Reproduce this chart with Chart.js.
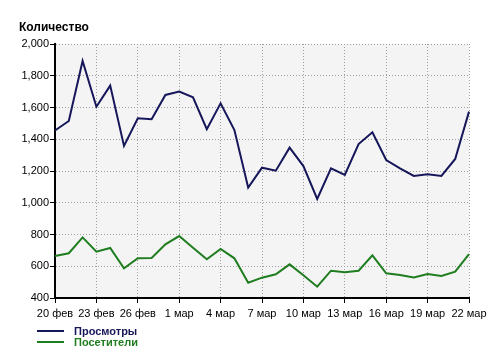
<!DOCTYPE html>
<html>
<head>
<meta charset="utf-8">
<script src="https://cdn.jsdelivr.net/npm/chart.js@4.4.0/dist/chart.umd.min.js"></script>
<style>
  html, body { margin: 0; padding: 0; background: #fff; }
  #wrap { width: 500px; height: 351px; position: relative; }
</style>
</head>
<body>
<div id="wrap"><canvas id="stats"></canvas></div>
<script>
// data
var days = [
  "20 фев", "21 фев", "22 фев", "23 фев", "24 фев", "25 фев", "26 фев", "27 фев", "28 фев",
  "1 мар", "2 мар", "3 мар", "4 мар", "5 мар", "6 мар", "7 мар", "8 мар", "9 мар", "10 мар",
  "11 мар", "12 мар", "13 мар", "14 мар", "15 мар", "16 мар", "17 мар", "18 мар", "19 мар",
  "20 мар", "21 мар", "22 мар"
];
var views = [
  1455, 1515, 1893, 1605, 1738, 1358, 1532, 1526, 1679, 1700,
  1664, 1463, 1626, 1458, 1095, 1221, 1202, 1347, 1231, 1024,
  1217, 1175, 1370, 1444, 1269, 1217, 1169, 1179, 1169, 1276, 1574
];
var visitors = [
  665, 682, 782, 692, 715, 587, 650, 652, 738, 790,
  716, 644, 709, 650, 496, 528, 549, 612, 543, 471,
  572, 562, 572, 669, 556, 545, 530, 551, 539, 566, 677
];
var yTicks = [400, 600, 800, 1000, 1200, 1400, 1600, 1800, 2000];

var tickFont = { family: "'Liberation Sans', Arial, sans-serif", size: 11 };

var chartDecor = {
  id: "chartDecor",
  beforeDraw: function (chart) {
    var ctx = chart.ctx, a = chart.chartArea;
    ctx.save();
    ctx.fillStyle = "#f4f4f4";
    ctx.fillRect(a.left, a.top, a.right - a.left, a.bottom - a.top);
    ctx.restore();
  },
  afterDraw: function (chart) {
    var ctx = chart.ctx;
    ctx.save();
    ctx.fillStyle = "#000";
    ctx.font = "bold 12px 'Liberation Sans', Arial, sans-serif";
    ctx.textBaseline = "middle";
    ctx.fillText("Количество", 19, 28);

    // legend, one row per dataset
    ctx.font = "bold 11px 'Liberation Sans', Arial, sans-serif";
    chart.data.datasets.forEach(function (ds, i) {
      var y = 331 + i * 11;
      ctx.strokeStyle = ds.borderColor;
      ctx.lineWidth = 2;
      ctx.beginPath();
      ctx.moveTo(37, y);
      ctx.lineTo(64, y);
      ctx.stroke();
      ctx.fillStyle = ds.borderColor;
      ctx.fillText(ds.label, 74, y + 1);
    });
    ctx.restore();
  }
};

var config = {
  type: "line",
  data: {
    labels: days,
    datasets: [
      {
        label: "Просмотры",
        data: views,
        borderColor: "#16165a",
        borderWidth: 2,
        pointRadius: 0,
        tension: 0,
      },
      {
        label: "Посетители",
        data: visitors,
        borderColor: "#1f7d1f",
        borderWidth: 2,
        pointRadius: 0,
        tension: 0,
      },
    ],
  },
  options: {
    responsive: true,
    maintainAspectRatio: false,
    animation: false,
    layout: {
      padding: { top: 44, right: 31, left: 0, bottom: 0 },
    },
    plugins: {
      legend: { display: false },
      tooltip: { enabled: false },
    },
    scales: {
      x: {
        type: "category",
        afterFit: function (scale) { scale.height = 53; },
        grid: {
          color: function (c) { return c.index % 3 === 0 ? "#a0a0a0" : "rgba(0,0,0,0)"; },
          tickColor: function (c) { return c.index % 3 === 0 ? "#000" : "rgba(0,0,0,0)"; },
          tickLength: 5,
          tickBorderDash: [],
        },
        border: { color: "#000", width: 2, dash: [1, 2] },
        ticks: {
          autoSkip: false,
          maxRotation: 0,
          padding: 4,
          color: "#000",
          font: tickFont,
          callback: function (v, i) { return i % 3 === 0 ? days[i] : ""; },
        },
      },
      y: {
        min: 400,
        max: 2000,
        afterFit: function (scale) { scale.width = 55; },
        afterBuildTicks: function (scale) {
          scale.ticks = yTicks.map(function (v) { return { value: v }; });
        },
        grid: {
          color: "#a0a0a0",
          tickColor: "#000",
          tickLength: 5,
          tickBorderDash: [],
        },
        border: { color: "#000", width: 2, dash: [1, 2] },
        ticks: {
          padding: 1,
          color: "#000",
          font: tickFont,
          callback: function (v) { return v.toLocaleString("en-US"); },
        },
      },
    },
  },
  plugins: [chartDecor],
};

var statsChart = new Chart(document.getElementById("stats").getContext("2d"), config);
</script>
</body>
</html>
